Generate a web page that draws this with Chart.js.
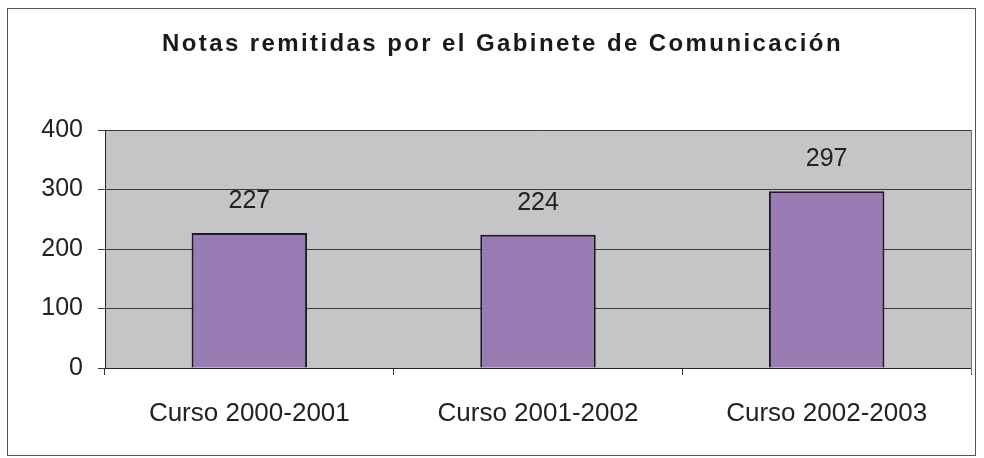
<!DOCTYPE html>
<html>
<head>
<meta charset="utf-8">
<script src="https://cdn.jsdelivr.net/npm/chart.js@4/dist/chart.umd.min.js"></script>
<style>
  html, body { margin: 0; padding: 0; background: #fff; }
  #box {
    position: absolute; left: 7px; top: 8px;
    width: 967px; height: 446px;
    border: 1px solid #555;
  }
</style>
</head>
<body>
<div id="box"><canvas id="chart"></canvas></div>
<script>
const categories = ["Curso 2000-2001", "Curso 2001-2002", "Curso 2002-2003"];
const notas = [227, 224, 297];
const yTicks = [0, 100, 200, 300, 400];
const titleText = "Notas remitidas por el Gabinete de Comunicación";

const FONT = "'Liberation Sans', Arial, sans-serif";

// grey plot area like the old Excel charts
const plotBg = {
    id: "plotBg",
    beforeDraw(chart) {
        const { ctx, chartArea: a } = chart;
        ctx.save();
        ctx.fillStyle = "#c5c5c7";
        ctx.fillRect(a.left, a.top, a.right - a.left, a.bottom - a.top);
        ctx.restore();
    },
    afterDraw(chart) {
        const { ctx, chartArea: a } = chart;
        ctx.save();
        ctx.strokeStyle = "#777";
        ctx.lineWidth = 1;
        ctx.beginPath();
        ctx.moveTo(a.right + 0.5, a.top);
        ctx.lineTo(a.right + 0.5, a.bottom + 6);
        ctx.stroke();
        ctx.restore();
    }
};

// the scanned title is spaced out, so it is drawn here with letterSpacing
const spacedTitle = {
    id: "spacedTitle",
    afterDraw(chart) {
        const { ctx } = chart;
        ctx.save();
        ctx.font = "bold 24px " + FONT;
        ctx.fillStyle = "#1a1a1a";
        ctx.letterSpacing = "2.4px";
        ctx.textAlign = "center";
        ctx.textBaseline = "alphabetic";
        ctx.fillText(titleText, chart.width / 2 + 11, 42);
        ctx.restore();
    }
};

// value labels above each bar
const barValues = {
    id: "barValues",
    afterDatasetsDraw(chart) {
        const { ctx } = chart;
        const meta = chart.getDatasetMeta(0);
        ctx.save();
        ctx.font = "25px " + FONT;
        ctx.fillStyle = "#222";
        ctx.textAlign = "center";
        ctx.textBaseline = "middle";
        meta.data.forEach((bar, i) => {
            ctx.fillText(String(notas[i]), bar.x, bar.y - 32);
        });
        ctx.restore();
    }
};

new Chart(document.getElementById("chart"), {
    type: "bar",
    data: {
        labels: categories,
        datasets: [{
            data: notas,
            backgroundColor: "#9a7cb4",
            borderColor: "#1c1a26",
            borderWidth: 2,
            barPercentage: 0.4,
            categoryPercentage: 1
        }]
    },
    options: {
        responsive: true,
        maintainAspectRatio: false,
        animation: false,
        layout: { padding: { left: 0, right: 4, top: 121, bottom: 0 } },
        plugins: {
            legend: { display: false },
            tooltip: { enabled: false },
            title: { display: false }
        },
        scales: {
            x: {
                grid: { drawOnChartArea: false, drawTicks: true, tickLength: 7, color: "#333", offset: true },
                border: { display: true, color: "#222", width: 1 },
                ticks: { color: "#222", font: { family: FONT, size: 26 }, padding: 23, maxRotation: 0 },
                afterFit(scale) { scale.height = 87; }
            },
            y: {
                min: 0,
                max: 400,
                afterBuildTicks(scale) { scale.ticks = yTicks.map(v => ({ value: v })); },
                grid: { color: "#3a3a3a", lineWidth: 1, drawTicks: true, tickLength: 7 },
                border: { display: true, color: "#222", width: 1 },
                ticks: { color: "#222", font: { family: FONT, size: 25 }, padding: 15 },
                afterFit(scale) { scale.width = 97; }
            }
        }
    },
    plugins: [plotBg, barValues, spacedTitle]
});
</script>
</body>
</html>
